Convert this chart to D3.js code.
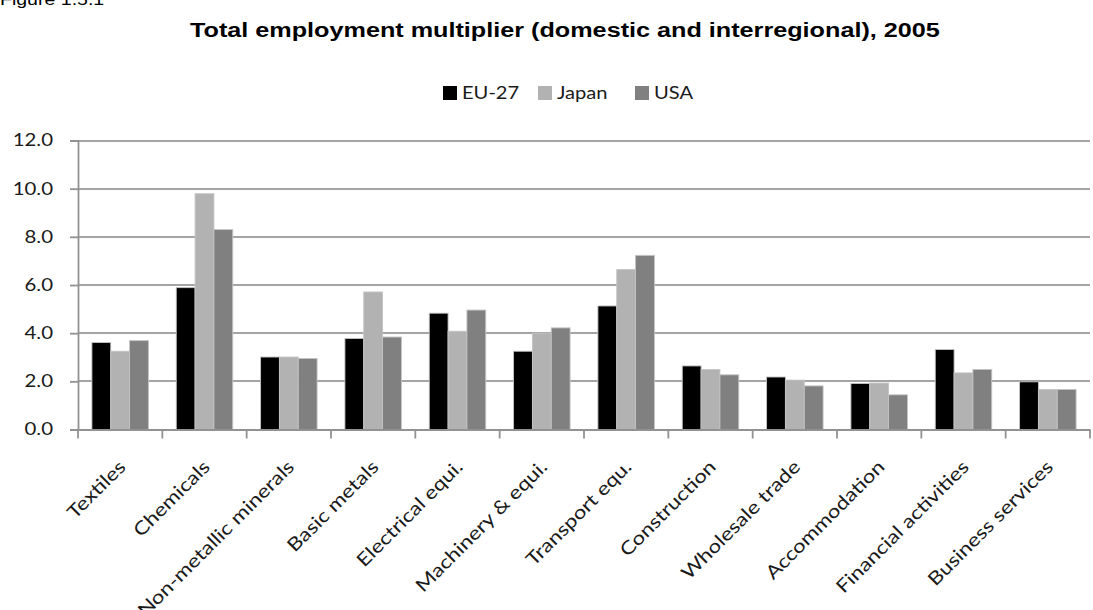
<!DOCTYPE html>
<html><head><meta charset="utf-8">
<script src="https://cdnjs.cloudflare.com/ajax/libs/d3/7.8.5/d3.min.js"></script>
<style>body{margin:0;background:#fff}svg{display:block}</style>
</head><body><svg id="c" width="1093" height="610"></svg>
<script>
const categories = ["Textiles","Chemicals","Non-metallic minerals","Basic metals","Electrical equi.","Machinery & equi.","Transport equ.","Construction","Wholesale trade","Accommodation","Financial activities","Business services"];
const seriesNames = ["EU-27","Japan","USA"];
const eu27  = [3.61,5.89,3.01,3.78,4.83,3.25,5.13,2.64,2.18,1.91,3.32,1.98];
const japan = [3.25,9.79,3.01,5.71,4.08,4.00,6.64,2.49,2.05,1.93,2.35,1.66];
const usa   = [3.69,8.30,2.95,3.84,4.96,4.22,7.23,2.27,1.81,1.44,2.49,1.66];
const yTicks = [0,2,4,6,8,10,12];
const colors = ["#000000","#b2b2b2","#808080"];

const svg = d3.select("#c");
const L = 78, R = 1090, T = 140.5, B = 429.5;
const FONT = "Lato, 'Open Sans', sans-serif";
const SX = 1.2; // horizontal stretch of the reference's text
const x = d3.scaleBand().domain(categories).range([L,R]).paddingInner(0.33).paddingOuter(0.165);
const xb = d3.scaleBand().domain(categories).range([L,R]);
const xs = d3.scaleBand().domain(seriesNames).range([0,x.bandwidth()]);
const y = d3.scaleLinear().domain([0,12]).range([B,T]);
const data = [eu27,japan,usa];

svg.append("text").attr("transform","translate(0,5) scale(1.15,1)").attr("font-family","'Liberation Sans', Arial").attr("font-size",17).text("Figure 1.5.1");
svg.append("text").attr("transform",`translate(190,37) scale(${SX},1)`).attr("font-family","'Liberation Sans', Arial").attr("font-weight","bold").attr("font-size",21).text("Total employment multiplier (domestic and interregional), 2005");

// gridlines
svg.append("g").selectAll("line").data(yTicks.slice(1)).join("line")
  .attr("x1",L).attr("x2",R).attr("y1",d=>Math.round(y(d))).attr("y2",d=>Math.round(y(d)))
  .attr("stroke","#a4a4a4").attr("stroke-width",1.8);

// y axis
const ya = svg.append("g").attr("transform",`translate(${L},0)`).call(d3.axisLeft(y).tickValues(yTicks).tickFormat(d3.format(".1f")).tickSize(8).tickPadding(17));
ya.select(".domain").attr("stroke","#929292").attr("stroke-width",1.8);
ya.selectAll(".tick line").attr("stroke","#929292").attr("stroke-width",1.8);
ya.selectAll("text").attr("x",-25/SX).attr("transform",`scale(${SX},1)`)
  .attr("font-family",FONT).attr("font-size",17).attr("fill","#1a1a1a");

// bars
categories.forEach((c,i)=>{
  seriesNames.forEach((s,j)=>{
    svg.append("rect").attr("x",x(c)+xs(s)).attr("width",xs.bandwidth())
      .attr("y",y(data[j][i])).attr("height",B-y(data[j][i]))
      .attr("fill",colors[j]).attr("stroke","#c4c4c4").attr("stroke-width",0.9);
  });
});

// x axis
const xa = svg.append("g").attr("transform",`translate(0,${B})`).call(d3.axisBottom(xb).tickSize(0).tickFormat(""));
xa.select(".domain").attr("stroke","#929292").attr("stroke-width",1.8);
svg.append("g").selectAll("line").data(d3.range(categories.length+1)).join("line")
  .attr("x1",d=>L+d*xb.bandwidth()).attr("x2",d=>L+d*xb.bandwidth())
  .attr("y1",B).attr("y2",B+9).attr("stroke","#929292").attr("stroke-width",1.8);
svg.append("g").selectAll("text").data(categories).join("text")
  .attr("transform",d=>`translate(${xb(d)+xb.bandwidth()/2+2},${B+34}) rotate(-45) scale(${SX},1)`)
  .attr("text-anchor","end").attr("dy","0.35em")
  .attr("font-family",FONT).attr("font-size",18.5).attr("fill","#1a1a1a").text(d=>d);

// legend
const lx = [443,538,635];
seriesNames.forEach((s,j)=>{
  svg.append("rect").attr("x",lx[j]).attr("y",86).attr("width",14).attr("height",14).attr("fill",colors[j]);
  svg.append("text").attr("transform",`translate(${lx[j]+19},99) scale(1.15,1)`).attr("font-family",FONT).attr("font-size",17.5).attr("fill","#1a1a1a").text(s);
});
</script></body></html>
